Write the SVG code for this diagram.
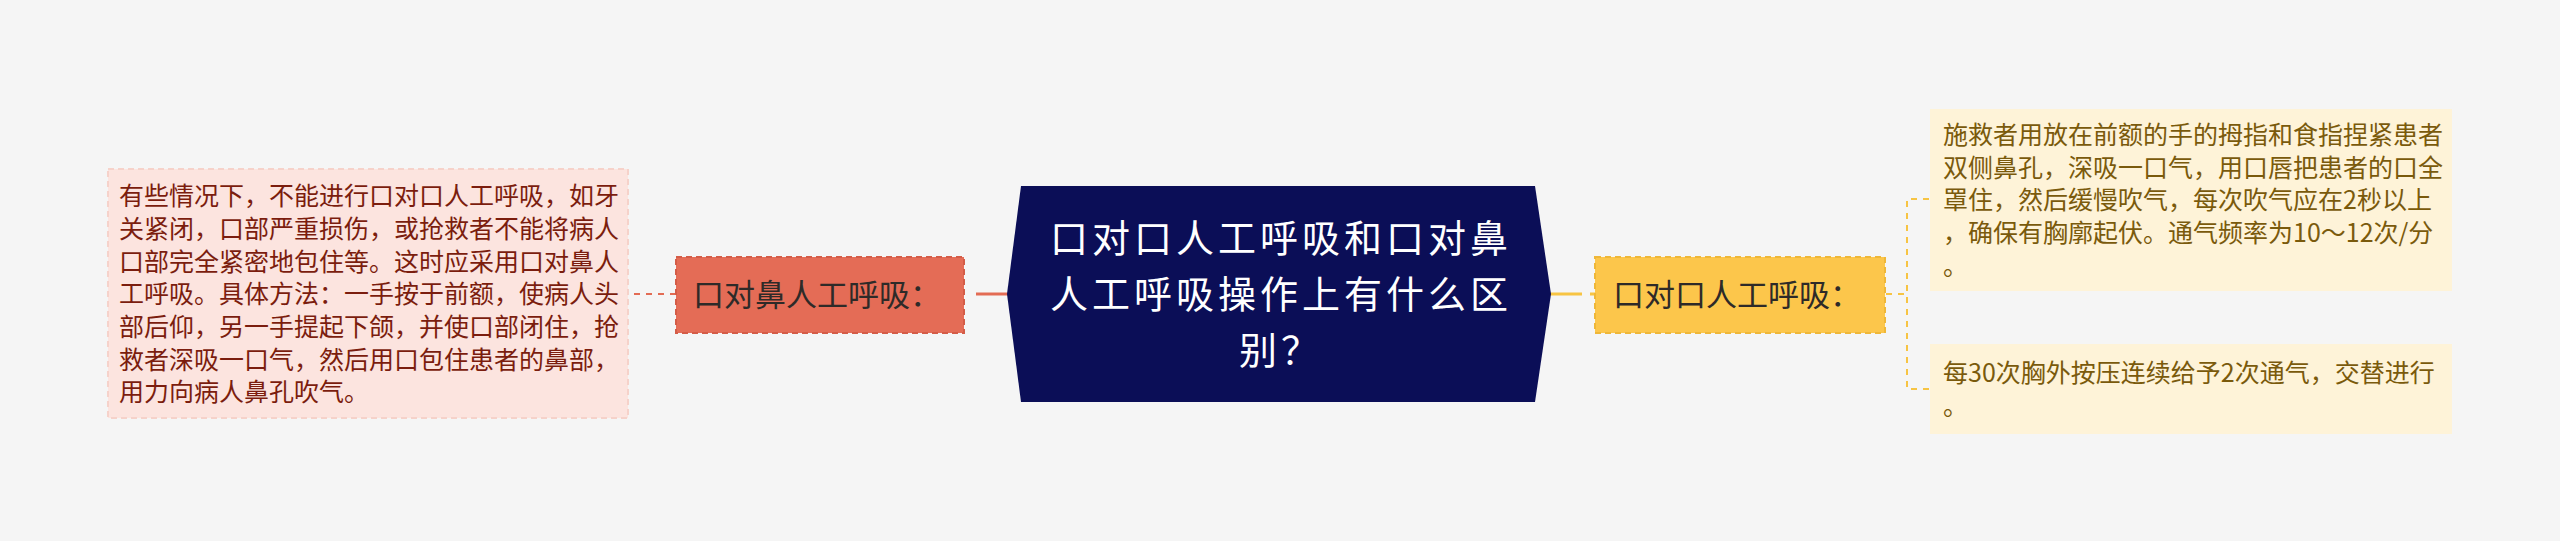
<svg xmlns="http://www.w3.org/2000/svg" width="2560" height="541" viewBox="0 0 2560 541">
<style>
text{font-family:"Noto Sans CJK SC","Noto Sans",sans-serif;}
.lt{font-size:25px;fill:#7b1d0e;}
.rt{font-size:25px;fill:#7a5a0c;}
.mid{font-size:31px;fill:#2e2a28;}
.ct{font-size:38px;letter-spacing:4px;fill:#ffffff;text-anchor:middle;}
.dashO{stroke:#e36c54;stroke-width:2;fill:none;stroke-dasharray:6 6;}
.dashY{stroke:#f7c443;stroke-width:2;fill:none;stroke-dasharray:6 6;}
</style>
<rect x="0" y="0" width="2560" height="541" fill="#f5f5f5"/>
<g id="connectors">
<line x1="1008" y1="294" x2="968" y2="294" stroke="#e36c54" stroke-width="3" stroke-dasharray="32 8"/>
<line x1="676" y1="294" x2="628" y2="294" class="dashO"/>
<line x1="1550" y1="294" x2="1595" y2="294" stroke="#f7c443" stroke-width="3" stroke-dasharray="32 8"/>
<line x1="1886" y1="294" x2="1907" y2="294" class="dashY"/>
<path d="M1929 199 H1907 V389 H1929" class="dashY"/>
</g>
<g id="center">
<polygon points="1007,294 1021,186 1535,186 1551,294 1535,402 1021,402" fill="#0b0e57"/>
<text class="ct" x="1281" y="252">口对口人工呼吸和口对鼻</text>
<text class="ct" x="1281" y="308">人工呼吸操作上有什么区</text>
<text class="ct" x="1281" y="364">别？</text>
</g>
<g id="node-left">
<rect x="676" y="257" width="288" height="76" fill="#e46c56" stroke="#d45c47" stroke-width="2" stroke-dasharray="6 4"/>
<text class="mid" x="693" y="306">口对鼻人工呼吸：</text>
</g>
<g id="leaf-left">
<rect x="108" y="169" width="520" height="249" fill="#fce4df" stroke="#f6d2ca" stroke-width="2" stroke-dasharray="6 4"/>
<text class="lt" x="119" y="205">有些情况下，不能进行口对口人工呼吸，如牙</text>
<text class="lt" x="119" y="238">关紧闭，口部严重损伤，或抢救者不能将病人</text>
<text class="lt" x="119" y="271">口部完全紧密地包住等。这时应采用口对鼻人</text>
<text class="lt" x="119" y="303">工呼吸。具体方法：一手按于前额，使病人头</text>
<text class="lt" x="119" y="336">部后仰，另一手提起下颌，并使口部闭住，抢</text>
<text class="lt" x="119" y="369">救者深吸一口气，然后用口包住患者的鼻部，</text>
<text class="lt" x="119" y="401">用力向病人鼻孔吹气。</text>
</g>
<g id="node-right">
<rect x="1595" y="257" width="290" height="76" fill="#fcc64b" stroke="#efb738" stroke-width="2" stroke-dasharray="6 4"/>
<text class="mid" x="1613" y="306">口对口人工呼吸：</text>
</g>
<g id="leaf-right-1">
<rect x="1930" y="109" width="522" height="182" fill="#fef3d8"/>
<text class="rt" x="1943" y="144">施救者用放在前额的手的拇指和食指捏紧患者</text>
<text class="rt" x="1943" y="177">双侧鼻孔，深吸一口气，用口唇把患者的口全</text>
<text class="rt" x="1943" y="209">罩住，然后缓慢吹气，每次吹气应在2秒以上</text>
<text class="rt" x="1943" y="242">，确保有胸廓起伏。通气频率为10～12次/分</text>
<text class="rt" x="1943" y="275">。</text>
</g>
<g id="leaf-right-2">
<rect x="1930" y="344" width="522" height="90" fill="#fef3d8"/>
<text class="rt" x="1943" y="382">每30次胸外按压连续给予2次通气，交替进行</text>
<text class="rt" x="1943" y="415">。</text>
</g>
</svg>
